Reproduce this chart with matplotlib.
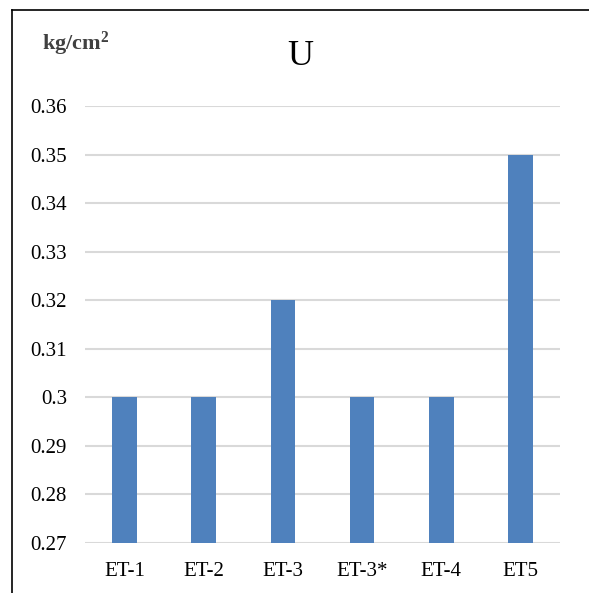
import matplotlib
matplotlib.use("Agg")
import matplotlib.pyplot as plt
from matplotlib.lines import Line2D

categories = ["ET-1", "ET-2", "ET-3", "ET-3*", "ET-4", "ET5"]
values = [0.30, 0.30, 0.32, 0.30, 0.30, 0.35]
y_ticks = [0.27, 0.28, 0.29, 0.30, 0.31, 0.32, 0.33, 0.34, 0.35, 0.36]
y_tick_labels = ["0.27", "0.28", "0.29", "0.3", "0.31", "0.32", "0.33", "0.34", "0.35", "0.36"]

plt.rcParams["font.family"] = ["Liberation Serif", "DejaVu Serif"]
plt.rcParams["mathtext.fontset"] = "custom"
plt.rcParams["mathtext.rm"] = "Liberation Serif"
plt.rcParams["mathtext.bf"] = "Liberation Serif:bold"

fig = plt.figure(figsize=(5.89, 5.93), dpi=100)
ax = fig.add_axes([0.1443, 0.0843, 0.8065, 0.7369])

x = range(len(categories))
ax.bar(x, values, width=0.31, color="#4F81BD", zorder=3)

ax.set_xlim(-0.5, len(categories) - 0.5)
ax.set_ylim(0.27, 0.36)
ax.set_yticks(y_ticks)
ax.set_yticklabels(y_tick_labels)
ax.set_xticks(list(x))
ax.set_xticklabels(categories)
ax.tick_params(axis="both", length=0, labelsize=15, colors="black")
ax.tick_params(axis="y", pad=13)
ax.tick_params(axis="x", pad=14)

ax.grid(axis="y", color="#d9d9d9", linewidth=1.5, zorder=0)
for s in ax.spines.values():
    s.set_visible(False)

fig.text(0.509, 0.905, "U", fontsize=26, ha="center", va="center")
fig.text(0.0713, 0.9157, r"$\mathbf{kg/cm^2}$", fontsize=16,
         color="#404040", ha="left", va="baseline")

# frame lines along the top and left edges
fig.add_artist(Line2D([0.0204, 0.0204], [0, 0.983], transform=fig.transFigure,
                      color="black", linewidth=1.2))
fig.add_artist(Line2D([0.0204, 1.0], [0.983, 0.983], transform=fig.transFigure,
                      color="black", linewidth=1.2))

fig.savefig("out.png", dpi=100)
